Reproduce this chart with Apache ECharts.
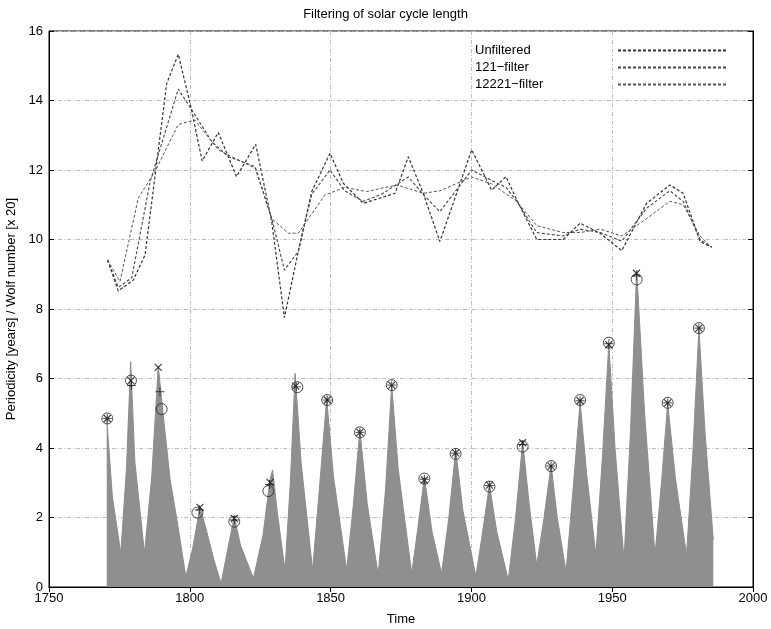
<!DOCTYPE html>
<html>
<head>
    <meta charset="utf-8">
    <title>ECharts</title>
    <script src="https://cdn.jsdelivr.net/npm/echarts@6/dist/echarts.min.js"></script>
</head>
<body style="margin:0">
    <div id="main" style="width:771px;height:629px;"></div>
    <script type="text/javascript">

// Wolf number / 20 as [year, value]
var wolf = [
[1770.5,4.85],[1772.5,2.6],[1775.5,0.97],[1777.5,3.4],[1779.0,6.48],[1780.5,3.6],[1783.9,0.97],[1786.5,3.2],[1788.8,6.36],[1790.5,5.0],
[1793,3.1],[1795.5,1.9],[1798.6,0.3],[1801,1.1],[1803.6,2.31],[1806,1.6],[1808.5,0.8],[1811.1,0.1],[1813.5,1.1],[1815.8,2.02],
[1818,1.2],[1822.6,0.25],[1826,1.5],[1828.5,3.1],[1829.4,3.37],[1831,2.2],[1833.8,0.49],[1835.7,3.0],[1837.4,6.15],[1839.5,3.6],
[1843.6,0.49],[1846,2.8],[1848.6,5.43],[1851,3.2],[1855.7,0.49],[1858,2.3],[1860.4,4.52],[1863,2.4],[1866.9,0.35],[1869.5,2.8],
[1871.7,5.81],[1874,3.4],[1878.8,0.39],[1881,1.7],[1883.3,3.17],[1886,1.6],[1889.4,0.39],[1892,2.0],[1894.4,3.94],[1897,2.2],
[1901.6,0.3],[1904,1.6],[1906.4,2.94],[1909,1.6],[1913.1,0.2],[1915.7,2.0],[1918.2,4.18],[1920.5,2.4],[1923.2,0.63],[1925.8,2.0],
[1928.3,3.51],[1930.5,2.0],[1933.6,0.44],[1936,2.7],[1938.6,5.33],[1941,3.2],[1944.2,0.92],[1946.5,3.7],[1948.8,7.01],[1951,4.0],
[1954.2,0.78],[1956.5,4.5],[1958.7,9.12],[1961.5,5.0],[1965.2,0.92],[1967.5,3.0],[1969.7,5.29],[1972.5,3.1],[1976.4,0.92],[1978.6,3.8],
[1980.8,7.44],[1983,4.4],[1985.9,1.35]
];

// cycle length curves
var unfiltered = [
[1770.8,9.41],[1774.6,8.52],[1779.9,8.83],[1784.1,9.55],[1791.8,14.49],[1795.9,15.33],[1800.1,13.92],[1804.4,12.26],[1810.1,13.08],[1816.6,11.81],
[1823.4,12.74],[1829.1,10.51],[1833.6,7.75],[1838.5,9.65],[1843.3,11.38],[1849.8,12.48],[1854.5,11.62],[1861.6,11.04],[1872.9,11.33],[1877.6,12.38],
[1882.9,11.33],[1888.8,9.94],[1900.1,12.58],[1907.2,11.42],[1912.3,11.81],[1916.1,11.14],[1923.2,10.0],[1932.6,10.0],[1938.6,10.47],[1945.7,10.18],
[1953.4,9.68],[1962.2,11.04],[1970.5,11.57],[1975.2,11.33],[1981.2,9.94],[1985.3,9.78]
];
var filter121 = [
[1770.8,9.41],[1774.6,8.62],[1779.4,8.9],[1785.9,11.66],[1795.9,14.33],[1800.7,13.73],[1807.8,12.82],[1813.7,12.38],[1823.2,12.1],[1829.1,10.61],
[1833.6,9.12],[1838.5,9.65],[1843.3,11.3],[1849.8,12.0],[1855,11.4],[1861.6,11.1],[1868,11.3],[1877.6,11.8],[1882.9,11.3],[1888.8,10.8],
[1900.1,12.0],[1907.2,11.7],[1912.3,11.5],[1916.1,11.1],[1923.2,10.2],[1932.6,10.1],[1938.6,10.3],[1945.7,10.2],[1953.4,9.95],[1962.2,10.9],
[1970.5,11.4],[1975.2,11.1],[1981.2,10.0],[1985.3,9.78]
];
var filter12221 = [
[1770.8,9.41],[1775.2,8.79],[1781.7,11.19],[1787.6,11.95],[1795.9,13.31],[1801.8,13.44],[1810.1,12.58],[1823.2,12.05],[1829.1,10.6],[1835,10.18],
[1838.5,10.18],[1848,11.28],[1855,11.5],[1862.8,11.38],[1873.5,11.57],[1882.9,11.33],[1888.8,11.4],[1900.1,11.8],[1907.2,11.6],[1916.1,11.1],
[1923.2,10.4],[1932.6,10.2],[1938.6,10.2],[1945.7,10.3],[1953.4,10.1],[1962.2,10.6],[1970.5,11.1],[1975.2,11.0],[1981.2,10.1],[1985.3,9.78]
];

// peak markers
var peakCircle = [
[1770.7,4.85],[1779.1,5.94],[1790.0,5.12],[1802.7,2.14],[1815.8,1.88],[1827.9,2.76],[1838.2,5.75],[1848.8,5.38],[1860.4,4.45],[1871.7,5.81],
[1883.3,3.12],[1894.4,3.83],[1906.4,2.89],[1918.2,4.04],[1928.3,3.48],[1938.6,5.38],[1948.8,7.03],[1958.7,8.85],[1969.7,5.3],[1980.8,7.45]
];
var peakCross = [
[1770.7,4.85],[1779.1,5.94],[1788.8,6.32],[1803.6,2.29],[1815.8,1.97],[1828.5,3.01],[1837.6,5.78],[1848.8,5.38],[1860.4,4.45],[1871.7,5.81],
[1883.3,3.08],[1894.4,3.86],[1906.4,2.93],[1918.2,4.15],[1928.3,3.48],[1938.6,5.36],[1948.8,6.97],[1958.6,9.03],[1969.7,5.3],[1980.8,7.45]
];
var peakPlus = [
[1770.7,4.85],[1779.3,5.8],[1789.4,5.62],[1803.4,2.22],[1815.8,1.93],[1828.3,2.95],[1837.8,5.76],[1848.8,5.38],[1860.4,4.45],[1871.7,5.81],
[1883.3,3.1],[1894.4,3.85],[1906.4,2.92],[1918.2,4.1],[1928.3,3.48],[1938.6,5.36],[1948.8,7.0],[1958.6,8.95],[1969.7,5.3],[1980.8,7.45]
];

var xTicks = [1750, 1800, 1850, 1900, 1950, 2000];
var yTicks = [0, 2, 4, 6, 8, 10, 12, 14, 16];

var myChart = echarts.init(document.getElementById('main'));

var font = 'Liberation Sans, Arial, sans-serif';
var gridLine = {show: true, lineStyle: {color: '#bdbdbd', type: [4, 2, 1, 2], width: 1}};
var dash = {color: '#333', width: 1.2, type: [3, 2]};

var option = {
    animation: false,
    backgroundColor: '#fff',
    title: {
        text: 'Filtering of solar cycle length',
        left: 'center',
        top: 3,
        textStyle: {fontFamily: font, fontSize: 13, fontWeight: 'normal', color: '#000'}
    },
    legend: {
        left: 470,
        top: 39,
        orient: 'vertical',
        align: 'right',
        itemGap: 4,
        itemWidth: 110,
        itemHeight: 14,
        itemStyle: {opacity: 0},
        data: ['Unfiltered', '121\u2212filter', '12221\u2212filter'],
        formatter: function (name) { return '{a|' + name + '}'; },
        textStyle: {
            fontFamily: font, fontSize: 13, color: '#000',
            rich: {a: {width: 138, align: 'left', fontFamily: font, fontSize: 13, color: '#000'}}
        }
    },
    grid: {
        left: 49, right: 18, top: 31, bottom: 42,
        containLabel: false, outerBoundsMode: 'none',
        show: true, borderColor: '#000', borderWidth: 1
    },
    xAxis: [{
        type: 'value', min: xTicks[0], max: xTicks[xTicks.length - 1], interval: 50,
        name: 'Time', nameLocation: 'middle', nameGap: 26,
        nameTextStyle: {fontFamily: font, fontSize: 13, color: '#000'},
        axisLine: {lineStyle: {color: '#000'}},
        axisTick: {inside: true, length: 5, lineStyle: {color: '#000'}},
        axisLabel: {fontFamily: font, fontSize: 13, color: '#000', margin: 5,
            formatter: function (v) { return String(v); }},
        splitLine: gridLine
    }, {
        type: 'value', position: 'top', min: 1750, max: 2000, interval: 50,
        axisLine: {lineStyle: {color: '#000'}},
        axisTick: {inside: true, length: 5, lineStyle: {color: '#000'}},
        axisLabel: {show: false}, splitLine: {show: false}
    }],
    yAxis: [{
        type: 'value', min: yTicks[0], max: yTicks[yTicks.length - 1], interval: 2,
        name: 'Periodicity [years] / Wolf number [x 20]', nameLocation: 'middle', nameGap: 27,
        nameTextStyle: {fontFamily: font, fontSize: 13, color: '#000'},
        axisLine: {show: true, lineStyle: {color: '#000'}},
        axisTick: {show: true, inside: true, length: 5, lineStyle: {color: '#000'}},
        axisLabel: {fontFamily: font, fontSize: 13, color: '#000', margin: 6},
        splitLine: gridLine
    }, {
        type: 'value', position: 'right', min: 0, max: 16, interval: 2,
        axisLine: {show: true, lineStyle: {color: '#000'}},
        axisTick: {show: true, inside: true, length: 5, lineStyle: {color: '#000'}},
        axisLabel: {show: false}, splitLine: {show: false}
    }],
    series: [{
        name: 'Wolf',
        type: 'line',
        data: wolf,
        symbol: 'none',
        lineStyle: {color: '#8c8c8c', width: 1},
        areaStyle: {color: '#8f8f8f', opacity: 1},
        z: 1
    }, {
        name: 'Unfiltered', type: 'line', data: unfiltered, symbol: 'none',
        lineStyle: dash, itemStyle: {color: '#333'}, z: 3
    }, {
        name: '121\u2212filter', type: 'line', data: filter121, symbol: 'none',
        lineStyle: {color: '#444', width: 1.1, type: [3, 2]}, itemStyle: {color: '#444'}, z: 3
    }, {
        name: '12221\u2212filter', type: 'line', data: filter12221, symbol: 'none',
        lineStyle: {color: '#555', width: 1, type: [3, 2]}, itemStyle: {color: '#555'}, z: 3
    }, {
        name: 'o', type: 'scatter', data: peakCircle, symbol: 'circle', symbolSize: 11,
        itemStyle: {color: 'rgba(0,0,0,0)', borderColor: '#222', borderWidth: 1}, z: 4
    }, {
        name: 'x', type: 'scatter', data: peakCross, symbol: 'path://M0,0L10,10M10,0L0,10', symbolSize: 7,
        itemStyle: {color: 'none', borderColor: '#111', borderWidth: 1.2}, z: 5
    }, {
        name: '+', type: 'scatter', data: peakPlus, symbol: 'path://M5,0L5,10M0,5L10,5', symbolSize: 9,
        itemStyle: {color: 'none', borderColor: '#222', borderWidth: 1}, z: 5
    }]
};

myChart.setOption(option);
    </script>
</body>
</html>
